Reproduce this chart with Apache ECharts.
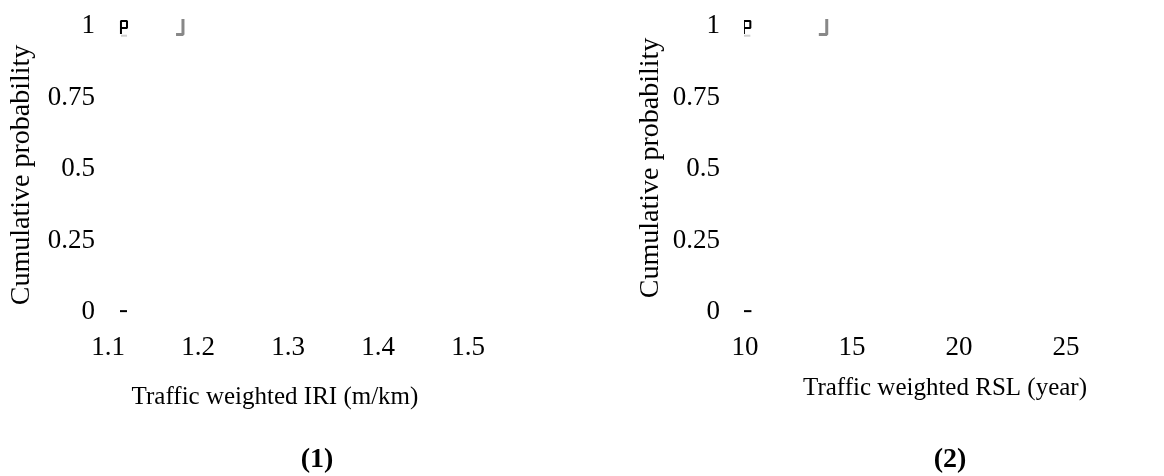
<!DOCTYPE html>
<html>
<head>
<meta charset="utf-8">
<script src="https://cdn.jsdelivr.net/npm/echarts@6/dist/echarts.min.js"></script>
<style>html,body{margin:0;padding:0;background:#fff;}#c{width:1164px;height:476px;}</style>
</head>
<body>
<div id="c"></div>
<script>
// ---- data ----
const yTicks = [0, 0.25, 0.5, 0.75, 1];
const iriTicks = [1.1, 1.2, 1.3, 1.4, 1.5];
const rslTicks = [10, 15, 20, 25];
// small residual marks visible in the reference (panel 1, IRI)
const iriBlack = [[1.1144, 0.972], [1.1144, 1.0175], [1.1211, 1.0175], [1.1211, 0.993], [1.1144, 0.993]];
const iriLight = [[1.1144, 0.966], [1.1211, 0.966]];
const iriGrey = [[1.1756, 0.970], [1.1833, 0.970], [1.1833, 1.0246]];
const iriZero = [[1.1133, 0.003], [1.1211, 0.003]];
// panel 2, RSL
const rslBlack = [[9.95, 0.972], [9.95, 1.0175], [10.25, 1.0175], [10.25, 0.993], [9.95, 0.993]];
const rslLight = [[9.95, 0.966], [10.25, 0.966]];
const rslGrey = [[13.45, 0.970], [13.82, 0.970], [13.82, 1.0246]];
const rslZero = [[9.95, 0.003], [10.3, 0.003]];

const FONT = '"Liberation Serif", "Times New Roman", serif';
const chart = echarts.init(document.getElementById('c'));

function yAx(gi, margin) {
  return {
    gridIndex: gi, type: 'value', min: yTicks[0], max: yTicks[yTicks.length - 1], interval: 0.25,
    axisLine: {show: false}, axisTick: {show: false}, splitLine: {show: false},
    axisLabel: {margin: margin, color: '#000', fontFamily: FONT, fontSize: 27,
      formatter: v => String(v)}
  };
}
function xAx(gi, min, max, interval, dec) {
  return {
    gridIndex: gi, type: 'value', min: min, max: max, interval: interval,
    axisLine: {show: false}, axisTick: {show: false}, splitLine: {show: false},
    axisLabel: {margin: 22, color: '#000', fontFamily: FONT, fontSize: 27,
      formatter: v => dec ? v.toFixed(dec) : String(v)}
  };
}
function ln(xi, data, color, w) {
  return {type: 'line', xAxisIndex: xi, yAxisIndex: xi, data: data, symbol: 'none',
    clip: false, silent: true, lineStyle: {color: color, width: w}, animation: false};
}

chart.setOption({
  animation: false,
  grid: [
    {left: 108, top: 26, width: 360, height: 286},
    {left: 745, top: 26, width: 321, height: 286}
  ],
  xAxis: [xAx(0, iriTicks[0], iriTicks[iriTicks.length - 1], 0.1, 1),
          xAx(1, rslTicks[0], rslTicks[rslTicks.length - 1], 5, 0)],
  yAxis: [yAx(0, 13), yAx(1, 25)],
  series: [
    ln(0, iriLight, '#d0d0d0', 2), ln(0, iriBlack, '#000', 2), ln(0, iriGrey, '#888', 3), ln(0, iriZero, '#000', 2),
    ln(1, rslLight, '#d0d0d0', 2), ln(1, rslBlack, '#000', 2), ln(1, rslGrey, '#888', 3), ln(1, rslZero, '#000', 2)
  ],
  graphic: [
    {type: 'text', x: 275, y: 397,
      style: {text: 'Traffic weighted IRI (m/km)', font: '25px ' + FONT, fill: '#000', align: 'center', verticalAlign: 'middle'}},
    {type: 'text', x: 945, y: 388,
      style: {text: 'Traffic weighted RSL (year)', font: '25px ' + FONT, fill: '#000', align: 'center', verticalAlign: 'middle'}},
    {type: 'text', x: 22, y: 175, rotation: Math.PI / 2,
      style: {text: 'Cumulative probability', font: '28px ' + FONT, fill: '#000', align: 'center', verticalAlign: 'middle'}},
    {type: 'text', x: 651, y: 168, rotation: Math.PI / 2,
      style: {text: 'Cumulative probability', font: '28px ' + FONT, fill: '#000', align: 'center', verticalAlign: 'middle'}},
    {type: 'text', x: 317, y: 460,
      style: {text: '(1)', font: 'bold 28px ' + FONT, fill: '#000', align: 'center', verticalAlign: 'middle'}},
    {type: 'text', x: 950, y: 460,
      style: {text: '(2)', font: 'bold 28px ' + FONT, fill: '#000', align: 'center', verticalAlign: 'middle'}}
  ]
});
</script>
</body>
</html>
